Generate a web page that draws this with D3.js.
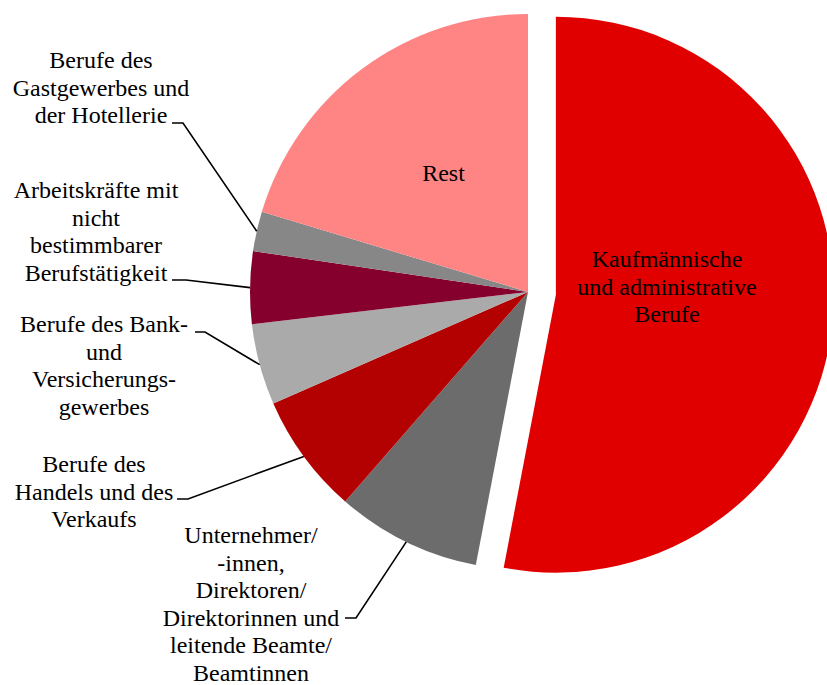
<!DOCTYPE html>
<meta charset="utf-8">
<style>
    body { margin: 0; background: #fff; }
    .label {
        font: 24px "Liberation Serif", "Times New Roman", serif;
        text-anchor: middle;
        fill: #000;
    }
    .leader {
        fill: none;
        stroke: #000;
        stroke-width: 1.6px;
    }
</style>
<svg id="chart" width="827" height="685"></svg>
<script src="https://d3js.org/d3.v7.min.js"></script>
<script>
    // data, in drawing order (clockwise from 12 o'clock)
    var categories = [
        "Kaufmännische und administrative Berufe",
        "Unternehmer/-innen, Direktoren/Direktorinnen und leitende Beamte/Beamtinnen",
        "Berufe des Handels und des Verkaufs",
        "Berufe des Bank- und Versicherungsgewerbes",
        "Arbeitskräfte mit nicht bestimmbarer Berufstätigkeit",
        "Berufe des Gastgewerbes und der Hotellerie",
        "Rest"
    ];
    var shares = [52.9, 8.4, 7.0, 4.7, 4.2, 2.3, 20.3];
    var labelLines = [
        ["Kaufmännische", "und administrative", "Berufe"],
        ["Unternehmer/", "-innen,", "Direktoren/", "Direktorinnen und", "leitende Beamte/", "Beamtinnen"],
        ["Berufe des", "Handels und des", "Verkaufs"],
        ["Berufe des Bank-", "und", "Versicherungs-", "gewerbes"],
        ["Arbeitskräfte mit", "nicht", "bestimmbarer", "Berufstätigkeit"],
        ["Berufe des", "Gastgewerbes und", "der Hotellerie"],
        ["Rest"]
    ];

    // styling / layout
    var colors = ["#e00000", "#6c6c6c", "#b30000", "#aaaaaa", "#86002e", "#878787", "#ff8585"];
    var explode = [28, 0, 0, 0, 0, 0, 0];
    // text anchor (centre x, first baseline) and leader elbow for each label
    var labelPos = [
        {x: 667, y: 267},
        {x: 251, y: 543, lx: 345, ly: 618, ex: 356},
        {x: 94, y: 472, lx: 177, ly: 499, ex: 188},
        {x: 104, y: 332, lx: 195, ly: 332, ex: 205},
        {x: 96, y: 198, lx: 172, ly: 280, ex: 186},
        {x: 101, y: 68, lx: 172, ly: 123, ex: 183},
        {x: 443.5, y: 181}
    ];
    var lineHeight = 27.6;

    var svg = d3.select("#chart"),
        cx = 528, cy = 292, radius = 278;

    var g = svg.append("g").attr("transform", "translate(" + cx + "," + cy + ")");

    var pie = d3.pie().sort(null).value(function (d) { return d; });
    var arc = d3.arc().innerRadius(0).outerRadius(radius);
    var arcs = pie(shares);

    function offset(d, i) {
        var a = (d.startAngle + d.endAngle) / 2;
        return [Math.sin(a) * explode[i], -Math.cos(a) * explode[i]];
    }

    g.selectAll("path.slice")
        .data(arcs)
        .enter().append("path")
        .attr("class", "slice")
        .attr("fill", function (d, i) { return colors[i]; })
        .attr("transform", function (d, i) {
            var o = offset(d, i);
            return "translate(" + o[0] + "," + o[1] + ")";
        })
        .attr("d", arc);

    // leader lines for the outside labels
    arcs.forEach(function (d, i) {
        var p = labelPos[i];
        if (p.lx === undefined) return;
        var a = (d.startAngle + d.endAngle) / 2;
        var edge = [cx + Math.sin(a) * radius, cy - Math.cos(a) * radius];
        svg.append("polyline")
            .attr("class", "leader")
            .attr("points", [[p.lx, p.ly], [p.ex, p.ly], edge].map(function (q) { return q.join(","); }).join(" "));
    });

    // labels
    labelLines.forEach(function (lines, i) {
        var p = labelPos[i];
        var t = svg.append("text").attr("class", "label");
        lines.forEach(function (line, k) {
            t.append("tspan")
                .attr("x", p.x)
                .attr("y", p.y + k * lineHeight)
                .text(line);
        });
    });
</script>
